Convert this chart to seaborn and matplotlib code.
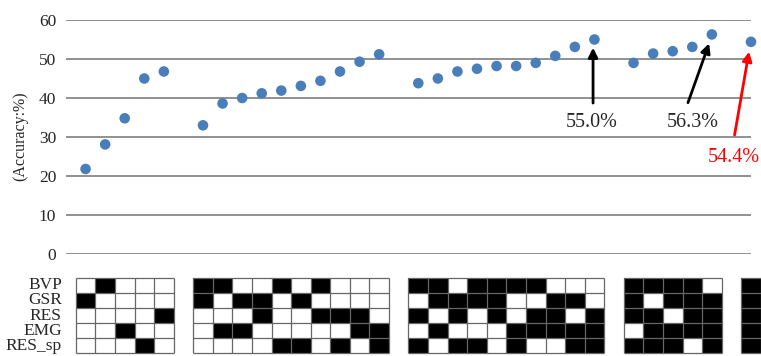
import numpy as np
import pandas as pd
import matplotlib
matplotlib.use("Agg")
import matplotlib.pyplot as plt
import seaborn as sns
from matplotlib.colors import ListedColormap

# ---------------- data ----------------
signals = ["BVP", "GSR", "RES", "EMG", "RES_sp"]

# slot positions of the combinations (one empty slot between groups)
group_slots = [[0, 1, 2, 3, 4],
               [6, 7, 8, 9, 10, 11, 12, 13, 14, 15],
               [17, 18, 19, 20, 21, 22, 23, 24, 25, 26],
               [28, 29, 30, 31, 32],
               [34]]
slots = [s for g in group_slots for s in g]

accuracy = [21.8, 28.1, 34.8, 45.0, 46.8,
            33.0, 38.6, 40.0, 41.2, 41.9, 43.1, 44.4, 46.8, 49.3, 51.2,
            43.8, 45.0, 46.8, 47.5, 48.2, 48.2, 49.0, 50.8, 53.1, 55.0,
            49.0, 51.4, 52.0, 53.1, 56.3,
            54.4]

# membership rows (1 = signal used), one column per combination
bvp   = [0,1,0,0,0, 1,1,0,0,1,0,1,0,0,0, 1,1,0,1,1,1,1,0,0,0, 1,1,1,1,0, 1]
gsr   = [1,0,0,0,0, 1,0,1,1,0,1,0,0,0,0, 0,1,1,1,1,0,0,1,1,0, 1,0,1,1,1, 1]
res   = [0,0,0,0,1, 0,0,0,1,0,0,1,1,1,0, 1,0,1,0,1,0,1,1,0,1, 1,1,0,1,1, 1]
emg   = [0,0,1,0,0, 0,1,1,0,0,0,0,0,1,1, 0,1,0,0,0,1,1,1,1,1, 0,1,1,1,1, 1]
ressp = [0,0,0,1,0, 0,0,0,0,1,1,0,1,0,1, 1,0,1,1,0,1,0,0,1,1, 1,1,1,0,1, 1]

yticks = [0, 10, 20, 30, 40, 50, 60]

# ---------------- style ----------------
sns.set_style("white")
plt.rcParams["font.family"] = ["Liberation Serif", "DejaVu Serif"]

W, H = 761, 356
fig = plt.figure(figsize=(W / 100, H / 100), dpi=100)

# main scatter axes
ax = fig.add_axes([66 / W, (H - 254) / H, 685 / W, 234 / H])
df = pd.DataFrame({"slot": slots, "acc": accuracy})
sns.scatterplot(data=df, x="slot", y="acc", ax=ax, color="#4A7EBB",
                s=58, edgecolor="none", linewidth=0, clip_on=False, zorder=3)
ax.set_xlim(-1, 34)
ax.set_ylim(0, 60)
ax.set_yticks(yticks)
ax.set_yticklabels([str(v) for v in yticks], fontsize=12.5)
ax.set_xticks([])
ax.set_xlabel("")
ax.set_ylabel("")
ax.tick_params(axis="y", length=0, pad=7)
for sp in ax.spines.values():
    sp.set_visible(False)
ax.yaxis.grid(True, color="#737373", linewidth=1.1)
ax.set_axisbelow(True)

fig.text(20 / W, 1 - 136 / H, "(Accuracy:%)", rotation=90,
         ha="center", va="center", fontsize=11.5)

# annotations
def arrow(tail, tip, color):
    ax.annotate("", xy=tip, xytext=tail,
                arrowprops=dict(arrowstyle="-|>", color=color, lw=2.0,
                                mutation_scale=14, shrinkA=0, shrinkB=0),
                annotation_clip=False)

arrow((25.93, 38.7), (25.93, 52.9), "black")
ax.text(25.87, 32.6, "55.0%", ha="center", va="baseline", fontsize=14.5)
arrow((30.78, 38.8), (31.86, 54.0), "black")
ax.text(31.02, 32.6, "56.3%", ha="center", va="baseline", fontsize=14.5)
arrow((33.16, 30.5), (33.90, 51.9), "#FF0000")
ax.text(33.14, 23.7, "54.4%", ha="center", va="baseline", fontsize=14.5,
        color="#FF0000", clip_on=False)

# membership matrix
n_slots = 35
mat = np.full((len(signals), n_slots), np.nan)
for row_i, row in enumerate([bvp, gsr, res, emg, ressp]):
    for s, v in zip(slots, row):
        mat[row_i, s] = v
mdf = pd.DataFrame(mat, index=signals)

gax = fig.add_axes([66 / W, (H - 353.3) / H, 685 / W, 75.6 / H])
sns.heatmap(mdf, ax=gax, cmap=ListedColormap(["white", "black"]),
            vmin=0, vmax=1, cbar=False, linewidths=0,
            xticklabels=False, yticklabels=signals)
gax.collections[0].set_clip_on(False)
gax.set_xlim(-0.5, 34.5)
gax.set_ylim(len(signals), 0)

# cell borders, drawn only around each group
nrow = len(signals)
for g in group_slots:
    x0, x1 = g[0], g[-1] + 1
    gax.vlines(np.arange(x0, x1 + 1), 0, nrow, colors="#666666",
               linewidth=0.9, clip_on=False, zorder=4)
    gax.hlines(np.arange(0, nrow + 1), x0, x1, colors="#666666",
               linewidth=0.9, clip_on=False, zorder=4)

gax.set_ylabel("")
gax.set_xlabel("")
gax.tick_params(axis="y", length=0, pad=3, labelsize=12.5)
for lab in gax.get_yticklabels():
    lab.set_rotation(0)
for sp in gax.spines.values():
    sp.set_visible(False)

fig.savefig("out.png", dpi=100)
